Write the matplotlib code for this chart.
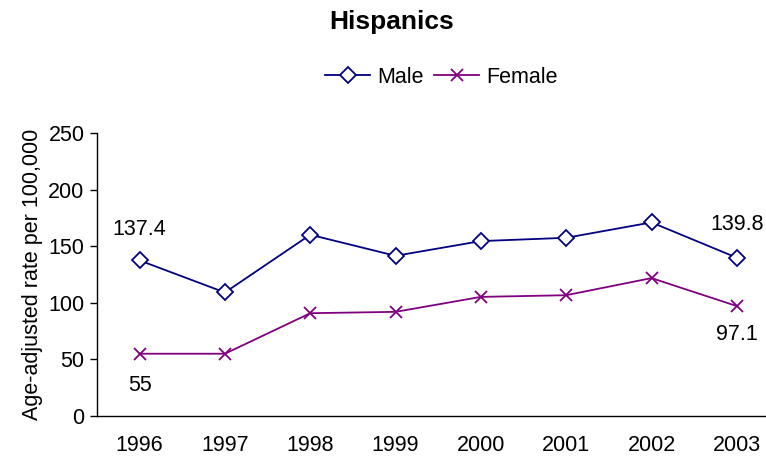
import numpy as np
import matplotlib
matplotlib.use('Agg')
import matplotlib.pyplot as plt

plt.rcParams['font.family'] = ['Liberation Sans', 'DejaVu Sans']

years = ['1996', '1997', '1998', '1999', '2000', '2001', '2002', '2003']
male = [137.4, 109.1, 160.1, 141.5, 154.5, 157.4, 171.0, 139.8]
female = [55.0, 55.0, 90.8, 92.0, 105.2, 106.7, 121.8, 97.1]

fs = 15.5
fig = plt.figure(figsize=(7.66, 4.59), dpi=100)
ax = fig.add_axes([0.1266, 0.0937, 0.891, 0.6166])
x = np.arange(len(years))

ax.plot(x, male, color='#000080', lw=1.3, marker='D', ms=8.5, mfc='white',
        mec='#000080', mew=1.3, label='Male')
ax.plot(x, female, color='#800080', lw=1.3, marker='x', ms=8.5,
        mec='#800080', mew=1.3, label='Female')

# end labels
ax.text(x[0], male[0] + 27, '137.4', ha='center', va='center', fontsize=fs)
ax.text(x[-1], male[-1] + 29, '139.8', ha='center', va='center', fontsize=fs)
ax.text(x[0], female[0] - 28, '55', ha='center', va='center', fontsize=fs)
ax.text(x[-1], female[-1] - 25.5, '97.1', ha='center', va='center', fontsize=fs)

ax.set_xlim(-0.5, len(years) - 0.5)
ax.set_ylim(0, 250)
ax.set_yticks(range(0, 251, 50))
ax.set_xticks(x)
ax.set_xticklabels(years)
ax.tick_params(axis='x', length=0, pad=14, labelsize=fs)
ax.tick_params(axis='y', length=5, width=1, pad=4, labelsize=fs)
for s in ['top', 'right']:
    ax.spines[s].set_visible(False)
for s in ['left', 'bottom']:
    ax.spines[s].set_linewidth(1)
ax.set_ylabel('Age-adjusted rate per 100,000', fontsize=fs, labelpad=4)

fig.text(0.511, 0.952, 'Hispanics', ha='center', va='center', fontsize=19,
         fontweight='bold')
fig.legend(loc='center', bbox_to_anchor=(0.576, 0.832), ncol=2, frameon=False,
           fontsize=fs, handlelength=2.1, columnspacing=0.5, handletextpad=0.3)

fig.savefig('out.png', dpi=100)
